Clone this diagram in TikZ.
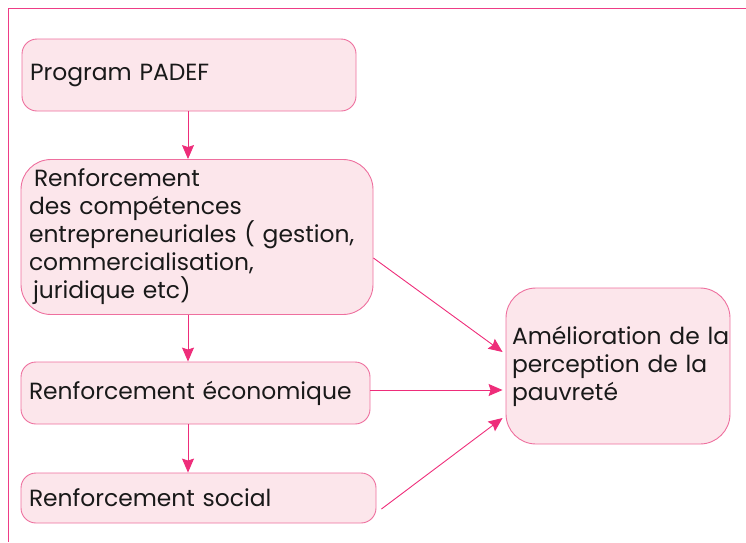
\documentclass[tikz,border=0pt]{standalone}
\usepackage{fontspec}
\setmainfont{Poppins}
\usetikzlibrary{arrows.meta}
\definecolor{framec}{HTML}{EE3D86}
\definecolor{boxline}{HTML}{EE6F9E}
\definecolor{boxfill}{HTML}{FCE6EB}
\definecolor{arrc}{HTML}{EE2D7A}
\tikzset{
  box/.style={draw=boxline, fill=boxfill, line width=0.9pt, align=left,
    inner xsep=8pt, inner ysep=0pt, font=\fontsize{23.4}{28}\selectfont, text=black!90},
  arr/.style={draw=arrc, line width=0.9pt, -{Stealth[length=14pt,width=12pt,inset=2pt]}},
}
\begin{document}
\begin{tikzpicture}[x=1pt,y=-1pt]
\useasboundingbox (0,0) rectangle (746,542);
\draw[framec, line width=0.9pt] (746,8) -- (8,8) -- (8,542);
\node[box, rounded corners=15pt, minimum width=334pt, minimum height=72pt, text width=318pt] (b1) at (189,75) {Program PADEF};
\node[box, rounded corners=30pt, minimum width=350pt, minimum height=155pt, text width=336pt] (b2) at (197,237) {\hspace{5pt}Renforcement\\des compétences\\entrepreneuriales ( gestion,\\commercialisation,\\\hspace{4pt}juridique etc)};
\node[box, rounded corners=15pt, minimum width=349pt, minimum height=62pt, text width=333pt] (b3) at (195.5,393) {Renforcement économique};
\node[box, rounded corners=15pt, minimum width=355pt, minimum height=50pt, text width=339pt] (b4) at (198.5,498) {Renforcement social};
\node[box, rounded corners=30pt, minimum width=224pt, minimum height=156pt, text width=212pt, inner xsep=6pt] (b5) at (618,366) {\mbox{Amélioration de la}\\\mbox{perception de la}\\pauvreté};
\draw[arr] (b1.south -| 188,0) -- (b2.north -| 188,0);
\draw[arr] (b2.south -| 188,0) -- (b3.north -| 188,0);
\draw[arr] (b3.south -| 188,0) -- (b4.north -| 188,0);
\draw[arr] ([yshift=-21pt]b2.east) -- ([yshift=14pt,xshift=-3pt]b5.west);
\draw[arr] ([yshift=3pt]b3.east) -- ([yshift=-24pt,xshift=-3pt]b5.west);
\draw[arr] ([xshift=5pt,yshift=-11pt]b4.east) -- ([yshift=-52pt,xshift=-3pt]b5.west);
\end{tikzpicture}
\end{document}
